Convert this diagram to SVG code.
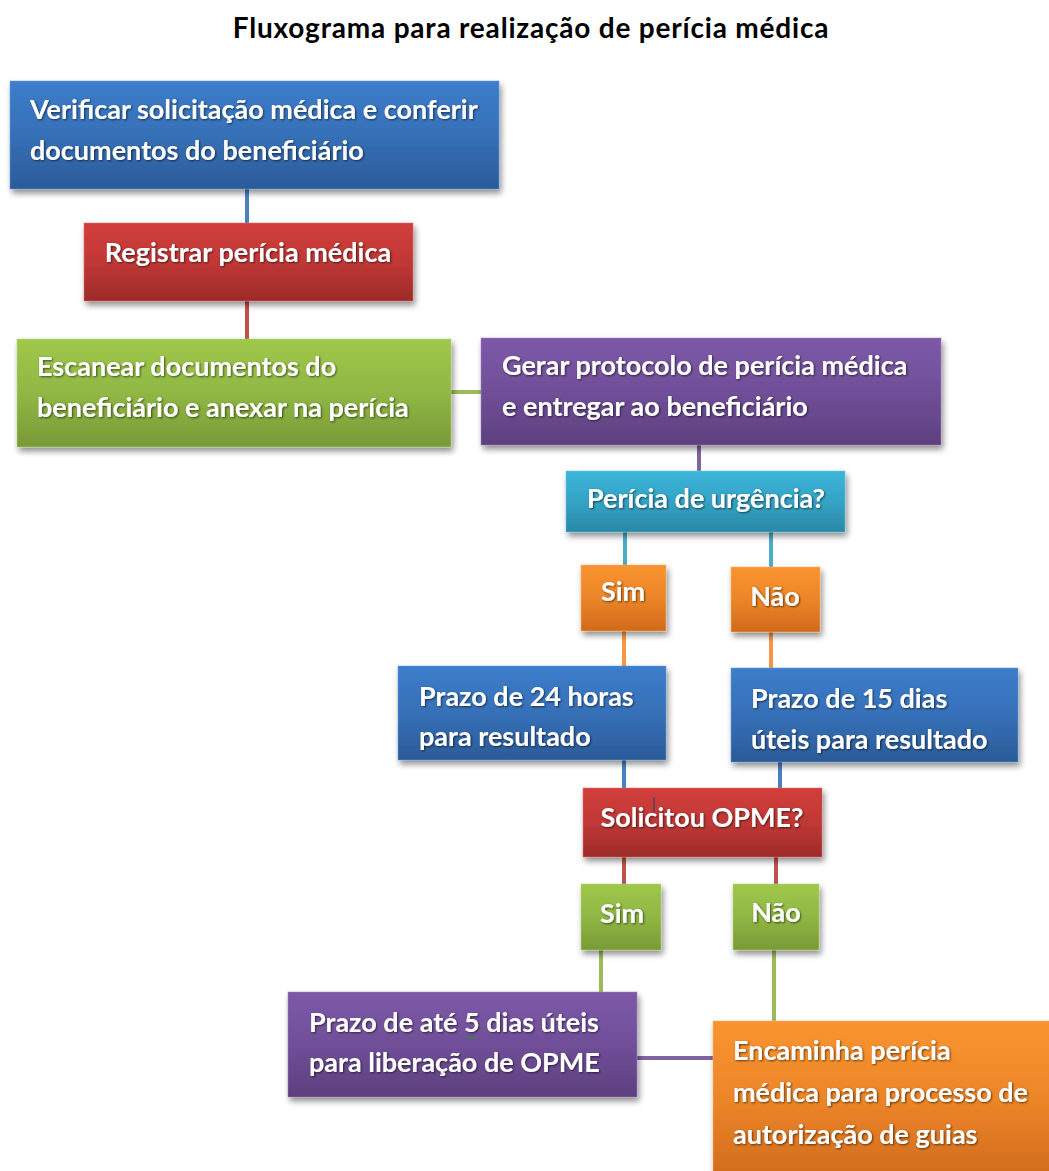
<svg xmlns="http://www.w3.org/2000/svg" width="1049" height="1171" viewBox="0 0 1049 1171">
  <defs>
    <linearGradient id="gBlue" x1="0" y1="0" x2="0" y2="1">
      <stop offset="0" stop-color="#3c7dcb"/><stop offset="0.5" stop-color="#3670b8"/><stop offset="1" stop-color="#2b5b98"/>
    </linearGradient>
    <linearGradient id="gRed" x1="0" y1="0" x2="0" y2="1">
      <stop offset="0" stop-color="#d23e3b"/><stop offset="0.5" stop-color="#c03836"/><stop offset="1" stop-color="#9d2b29"/>
    </linearGradient>
    <linearGradient id="gGreen" x1="0" y1="0" x2="0" y2="1">
      <stop offset="0" stop-color="#9fc84b"/><stop offset="0.5" stop-color="#90b744"/><stop offset="1" stop-color="#789a37"/>
    </linearGradient>
    <linearGradient id="gPurple" x1="0" y1="0" x2="0" y2="1">
      <stop offset="0" stop-color="#7d58a8"/><stop offset="0.5" stop-color="#704f98"/><stop offset="1" stop-color="#5d407f"/>
    </linearGradient>
    <linearGradient id="gTeal" x1="0" y1="0" x2="0" y2="1">
      <stop offset="0" stop-color="#3bb5da"/><stop offset="0.5" stop-color="#34a3c5"/><stop offset="1" stop-color="#2a88a6"/>
    </linearGradient>
    <linearGradient id="gOrange" x1="0" y1="0" x2="0" y2="1">
      <stop offset="0" stop-color="#fa9430"/><stop offset="0.5" stop-color="#ec8528"/><stop offset="1" stop-color="#cf6a1d"/>
    </linearGradient>
    <filter id="shadow" x="-10%" y="-10%" width="125%" height="135%">
      <feGaussianBlur in="SourceAlpha" stdDeviation="3"/>
      <feOffset dx="2" dy="4" result="b"/>
      <feComponentTransfer><feFuncA type="linear" slope="0.45"/></feComponentTransfer>
      <feMerge><feMergeNode/><feMergeNode in="SourceGraphic"/></feMerge>
    </filter>
    <filter id="txtShadow" x="-5%" y="-20%" width="110%" height="140%">
      <feGaussianBlur in="SourceAlpha" stdDeviation="0.8"/>
      <feOffset dx="0.5" dy="0.8"/>
      <feComponentTransfer><feFuncA type="linear" slope="0.6"/></feComponentTransfer>
      <feMerge><feMergeNode/><feMergeNode in="SourceGraphic"/></feMerge>
    </filter>
  </defs>
  <style>
    .box { filter: url(#shadow); stroke-width: 1; stroke-opacity: 0.5; }
    .lbl { font-family: "Lato", "Liberation Sans", sans-serif; font-weight: 700; font-size: 27px; fill: #ffffff; filter: url(#txtShadow); }
    .mid { text-anchor: middle; }
    .title { font-family: "Lato", "Liberation Sans", sans-serif; font-weight: 700; font-size: 28px; letter-spacing: 0.8px; fill: #000000; text-anchor: middle; }
    .c { fill: none; stroke-width: 4; }
  </style>

  <rect width="1049" height="1171" fill="#ffffff"/>

  <text class="title" x="531" y="38">Fluxograma para realização de perícia médica</text>

  <!-- connectors -->
  <g id="connectors">
    <line class="c" x1="247" y1="189" x2="247" y2="223" stroke="#4a80c2"/>
    <line class="c" x1="247" y1="301" x2="247" y2="339" stroke="#c0504d"/>
    <line class="c" x1="451" y1="392" x2="481" y2="392" stroke="#9bbb59"/>
    <line class="c" x1="699" y1="445" x2="699" y2="472" stroke="#8064a2"/>
    <line class="c" x1="625" y1="532" x2="625" y2="566" stroke="#4bacc6"/>
    <line class="c" x1="771" y1="532" x2="771" y2="568" stroke="#4bacc6"/>
    <line class="c" x1="624" y1="631" x2="624" y2="667" stroke="#f79646"/>
    <line class="c" x1="771" y1="632" x2="771" y2="669" stroke="#f79646"/>
    <line class="c" x1="624" y1="760" x2="624" y2="789" stroke="#4a80c2"/>
    <line class="c" x1="780" y1="762" x2="780" y2="789" stroke="#4a80c2"/>
    <line class="c" x1="624" y1="857" x2="624" y2="885" stroke="#c0504d"/>
    <line class="c" x1="776" y1="857" x2="776" y2="885" stroke="#c0504d"/>
    <line class="c" x1="601" y1="950" x2="601" y2="993" stroke="#9bbb59"/>
    <line class="c" x1="774" y1="950" x2="774" y2="1022" stroke="#9bbb59"/>
    <line class="c" x1="637" y1="1058" x2="714" y2="1058" stroke="#8064a2"/>
  </g>

  <!-- nodes -->
  <g id="n-verificar">
    <rect class="box" x="10" y="81" width="489" height="108" fill="url(#gBlue)" stroke="#6a9bd8"/>
    <text class="lbl" x="30" y="119">Verificar solicitação médica e conferir</text>
    <text class="lbl" x="30" y="160">documentos do beneficiário</text>
  </g>

  <g id="n-registrar">
    <rect class="box" x="84" y="223" width="329" height="78" fill="url(#gRed)" stroke="#e07370"/>
    <text class="lbl mid" x="248" y="262">Registrar perícia médica</text>
  </g>

  <g id="n-escanear">
    <rect class="box" x="17" y="339" width="434" height="108" fill="url(#gGreen)" stroke="#b8d67e"/>
    <text class="lbl" x="37" y="376">Escanear documentos do</text>
    <text class="lbl" x="37" y="417">beneficiário e anexar na perícia</text>
  </g>

  <g id="n-protocolo">
    <rect class="box" x="481" y="338" width="460" height="107" fill="url(#gPurple)" stroke="#9c82c0"/>
    <text class="lbl" x="502" y="375">Gerar protocolo de perícia médica</text>
    <text class="lbl" x="502" y="416">e entregar ao beneficiário</text>
  </g>

  <g id="n-urgencia">
    <rect class="box" x="566" y="471" width="279" height="61" fill="url(#gTeal)" stroke="#72c8e3"/>
    <text class="lbl mid" x="706" y="508">Perícia de urgência?</text>
  </g>

  <g id="n-sim1">
    <rect class="box" x="581" y="565" width="85" height="66" fill="url(#gOrange)" stroke="#fbb373"/>
    <text class="lbl mid" x="623" y="601">Sim</text>
  </g>

  <g id="n-nao1">
    <rect class="box" x="731" y="567" width="89" height="65" fill="url(#gOrange)" stroke="#fbb373"/>
    <text class="lbl mid" x="775" y="606">Não</text>
  </g>

  <g id="n-24h">
    <rect class="box" x="398" y="666" width="268" height="94" fill="url(#gBlue)" stroke="#6a9bd8"/>
    <text class="lbl" x="419" y="706">Prazo de 24 horas</text>
    <text class="lbl" x="419" y="746">para resultado</text>
  </g>

  <g id="n-15d">
    <rect class="box" x="731" y="668" width="287" height="94" fill="url(#gBlue)" stroke="#6a9bd8"/>
    <text class="lbl" x="751" y="708">Prazo de 15 dias</text>
    <text class="lbl" x="751" y="749">úteis para resultado</text>
  </g>

  <g id="n-opme">
    <rect class="box" x="583" y="788" width="239" height="69" fill="url(#gRed)" stroke="#e07370"/>
    <text class="lbl mid" x="702" y="827">Solicitou OPME?</text>
    <line x1="654" y1="797" x2="654" y2="812" stroke="#1f3f7a" stroke-width="1"/>
  </g>

  <g id="n-sim2">
    <rect class="box" x="581" y="884" width="80" height="66" fill="url(#gGreen)" stroke="#b8d67e"/>
    <text class="lbl mid" x="622" y="923">Sim</text>
  </g>

  <g id="n-nao2">
    <rect class="box" x="733" y="884" width="86" height="66" fill="url(#gGreen)" stroke="#b8d67e"/>
    <text class="lbl mid" x="776" y="922">Não</text>
  </g>

  <g id="n-5dias">
    <rect class="box" x="288" y="992" width="349" height="105" fill="url(#gPurple)" stroke="#9c82c0"/>
    <text class="lbl" x="309" y="1032">Prazo de até 5 dias úteis</text>
    <text class="lbl" x="309" y="1072">para liberação de OPME</text>
    <path d="M466 1036 l2 3 l2 -3 l2 3 l2 -3 l2 3" fill="none" stroke="#2e8b2e" stroke-width="1"/>
  </g>

  <g id="n-encaminha">
    <rect class="box" x="713" y="1021" width="340" height="160" fill="url(#gOrange)" stroke="#fbb373"/>
    <text class="lbl" x="733" y="1060">Encaminha perícia</text>
    <text class="lbl" x="733" y="1102">médica para processo de</text>
    <text class="lbl" x="733" y="1144">autorização de guias</text>
  </g>
</svg>
